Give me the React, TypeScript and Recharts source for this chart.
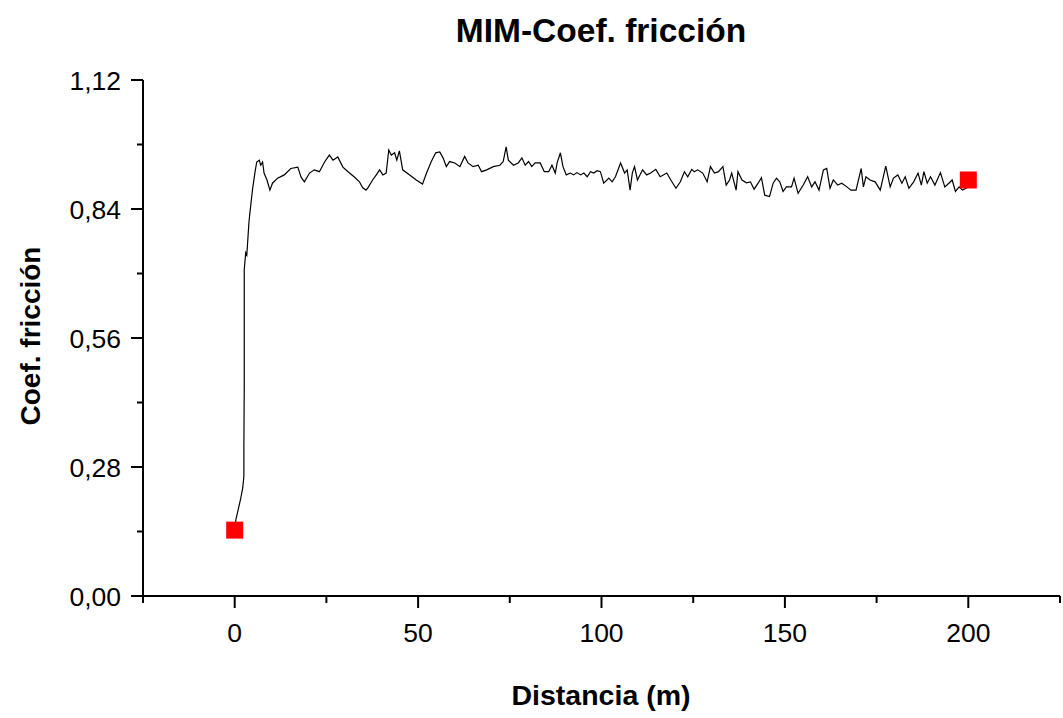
import React from 'react'
import { ComposedChart, Line, Scatter, XAxis, YAxis } from 'recharts'

// distance (m) and friction coefficient
const distance = [
  0, 0.3, 1.6, 2.2, 2.5, 2.5, 2.6, 2.6, 2.6, 3.0,
  3.3, 3.9, 4.4, 4.9, 5.5, 6.0, 6.7, 7.1, 7.6, 8.0,
  8.8, 9.6, 10.3, 11.7, 13.5, 15.3, 17.2, 18.1, 19.0, 20.4,
  21.7, 23.1, 24.5, 25.8, 26.8, 28.1, 29.5, 30.9, 32.7, 34.0,
  34.9, 35.8, 36.3, 37.6, 38.6, 39.5, 40.4, 41.3, 42.0, 42.7,
  43.6, 44.2, 44.9, 45.8, 47.7, 49.5, 51.2, 52.3, 53.6, 54.8,
  55.9, 56.8, 57.7, 58.6, 60.0, 61.4, 62.7, 63.6, 65.0, 66.4,
  67.3, 68.7, 70.5, 72.3, 73.2, 74.0, 74.6, 76.0, 77.3, 78.3,
  79.2, 80.1, 81.0, 81.9, 83.3, 84.4, 85.6, 86.5, 87.4, 87.9,
  88.8, 89.5, 90.4, 91.5, 92.4, 93.3, 94.3, 95.2, 96.1, 97.0,
  97.9, 98.8, 99.7, 100.6, 102.0, 102.9, 103.8, 105.2, 106.3, 107.0,
  107.8, 108.4, 109.0, 109.8, 111.2, 112.3, 113.4, 114.8, 116.0, 117.8,
  118.9, 120.3, 121.5, 122.6, 123.5, 124.6, 125.3, 126.2, 127.6, 128.8,
  129.7, 130.8, 131.9, 133.1, 134.0, 134.9, 135.5, 136.7, 137.2, 138.3,
  139.5, 140.6, 141.6, 142.7, 143.6, 144.5, 145.8, 146.8, 147.7, 148.6,
  149.5, 150.4, 151.8, 152.5, 153.6, 155.0, 156.2, 157.3, 158.2, 159.3,
  160.5, 161.4, 162.3, 163.2, 164.4, 165.5, 166.9, 168.0, 169.4, 170.8,
  171.4, 172.1, 173.2, 174.6, 176.0, 177.5, 178.7, 179.6, 180.8, 181.9,
  182.8, 183.8, 185.1, 186.3, 187.2, 187.9, 188.8, 189.7, 190.9, 192.4,
  193.6, 194.7, 195.6, 196.5, 197.5, 198.4, 199.7,
]

const coef = [
  0.143, 0.165, 0.21, 0.235, 0.26, 0.32, 0.45, 0.6, 0.708, 0.745,
  0.74, 0.813, 0.85, 0.885, 0.918, 0.942, 0.946, 0.935, 0.942, 0.918,
  0.903, 0.881, 0.896, 0.907, 0.914, 0.928, 0.931, 0.909, 0.899, 0.918,
  0.925, 0.921, 0.942, 0.957, 0.946, 0.953, 0.931, 0.921, 0.909, 0.899,
  0.886, 0.881, 0.886, 0.903, 0.914, 0.925, 0.914, 0.918, 0.968, 0.957,
  0.962, 0.946, 0.966, 0.925, 0.914, 0.903, 0.894, 0.918, 0.943, 0.962,
  0.964, 0.951, 0.932, 0.943, 0.940, 0.932, 0.954, 0.940, 0.932, 0.935,
  0.921, 0.925, 0.932, 0.935, 0.943, 0.975, 0.946, 0.935, 0.940, 0.951,
  0.935, 0.943, 0.932, 0.940, 0.940, 0.921, 0.921, 0.935, 0.918, 0.940,
  0.962, 0.932, 0.914, 0.918, 0.914, 0.919, 0.914, 0.918, 0.910, 0.921,
  0.918, 0.923, 0.921, 0.896, 0.907, 0.899, 0.910, 0.940, 0.918, 0.925,
  0.881, 0.918, 0.932, 0.903, 0.925, 0.914, 0.918, 0.926, 0.910, 0.918,
  0.903, 0.885, 0.899, 0.921, 0.910, 0.926, 0.921, 0.925, 0.918, 0.899,
  0.932, 0.918, 0.921, 0.932, 0.892, 0.903, 0.918, 0.881, 0.921, 0.903,
  0.897, 0.899, 0.883, 0.896, 0.908, 0.870, 0.867, 0.896, 0.907, 0.899,
  0.878, 0.888, 0.888, 0.907, 0.874, 0.892, 0.910, 0.888, 0.899, 0.881,
  0.925, 0.928, 0.885, 0.903, 0.892, 0.896, 0.888, 0.881, 0.881, 0.928,
  0.888, 0.910, 0.903, 0.899, 0.881, 0.933, 0.888, 0.907, 0.914, 0.896,
  0.910, 0.885, 0.899, 0.918, 0.892, 0.921, 0.896, 0.910, 0.892, 0.919,
  0.888, 0.896, 0.903, 0.878, 0.888, 0.881, 0.886,
]

// first and last points, drawn as red squares
const markDistance = [0, 200]
const markCoef = [0.143, 0.903]

const xMajor = [0, 50, 100, 150, 200]
const xMinor = [-25, 25, 75, 125, 175, 225]
const yMajor = [0, 0.28, 0.56, 0.84, 1.12]
const yMinor = [0.14, 0.42, 0.7, 0.98]

const FONT = '"Liberation Sans", Arial, sans-serif'

const trace = distance.map((d, i) => ({ d, v: coef[i] }))
const marks = markDistance.map((d, i) => ({ d, v: markCoef[i] }))
const xTicks = [...xMinor, ...xMajor].sort((a, b) => a - b)
const yTicks = [...yMajor, ...yMinor].sort((a, b) => a - b)

const XTick = ({ x, y, payload }: any) => {
  const major = xMajor.includes(payload.value)
  return (
    <g>
      <line x1={x} y1={y} x2={x} y2={y + (major ? 12 : 7)} stroke="#000" strokeWidth={2} />
      {major && (
        <text x={x} y={y + 46} textAnchor="middle" fontSize={26.5} fontFamily={FONT} fill="#000">
          {payload.value}
        </text>
      )}
    </g>
  )
}

const YTick = ({ x, y, payload }: any) => {
  const major = yMajor.includes(payload.value)
  return (
    <g>
      <line x1={x - (major ? 12 : 6)} y1={y} x2={x} y2={y} stroke="#000" strokeWidth={2} />
      {major && (
        <text x={x - 22} y={y + 9.5} textAnchor="end" fontSize={26.5} fontFamily={FONT} fill="#000">
          {payload.value.toFixed(2).replace('.', ',')}
        </text>
      )}
    </g>
  )
}

const Square = ({ cx, cy }: any) => (
  <rect x={cx - 8.5} y={cy - 8.5} width={17} height={17} fill="#ff0000" />
)

export default function App() {
  return (
    <div style={{ position: 'absolute', left: 0, top: 0, width: 1063, height: 718, background: '#fff' }}>
      <ComposedChart
        width={1063}
        height={718}
        data={trace}
        margin={{ top: 80, right: 3, bottom: 0, left: 0 }}
      >
        <XAxis
          dataKey="d"
          type="number"
          domain={[-25, 225]}
          ticks={xTicks}
          interval={0}
          height={122}
          tickSize={0}
          tickMargin={0}
          tick={<XTick />}
          axisLine={{ stroke: '#000', strokeWidth: 2 }}
        />
        <YAxis
          type="number"
          domain={[0, 1.12]}
          ticks={yTicks}
          interval={0}
          width={143}
          tickSize={0}
          tickMargin={0}
          tick={<YTick />}
          axisLine={{ stroke: '#000', strokeWidth: 2 }}
        />
        <Line
          dataKey="v"
          type="linear"
          stroke="#000"
          strokeWidth={1.2}
          dot={false}
          isAnimationActive={false}
        />
        <Scatter data={marks} dataKey="v" shape={<Square />} isAnimationActive={false} />
      </ComposedChart>
      <svg
        width={1063}
        height={718}
        style={{ position: 'absolute', left: 0, top: 0, pointerEvents: 'none' }}
      >
        <text x={601} y={42} textAnchor="middle" fontSize={33.5} fontWeight="bold" fontFamily={FONT} fill="#000">
          MIM-Coef. fricción
        </text>
        <text x={601} y={705} textAnchor="middle" fontSize={28.5} fontWeight="bold" fontFamily={FONT} fill="#000">
          Distancia (m)
        </text>
        <text
          x={40}
          y={336}
          transform="rotate(-90, 40, 336)"
          textAnchor="middle"
          fontSize={28}
          fontWeight="bold"
          fontFamily={FONT}
          fill="#000"
        >
          Coef. fricción
        </text>
      </svg>
    </div>
  )
}
